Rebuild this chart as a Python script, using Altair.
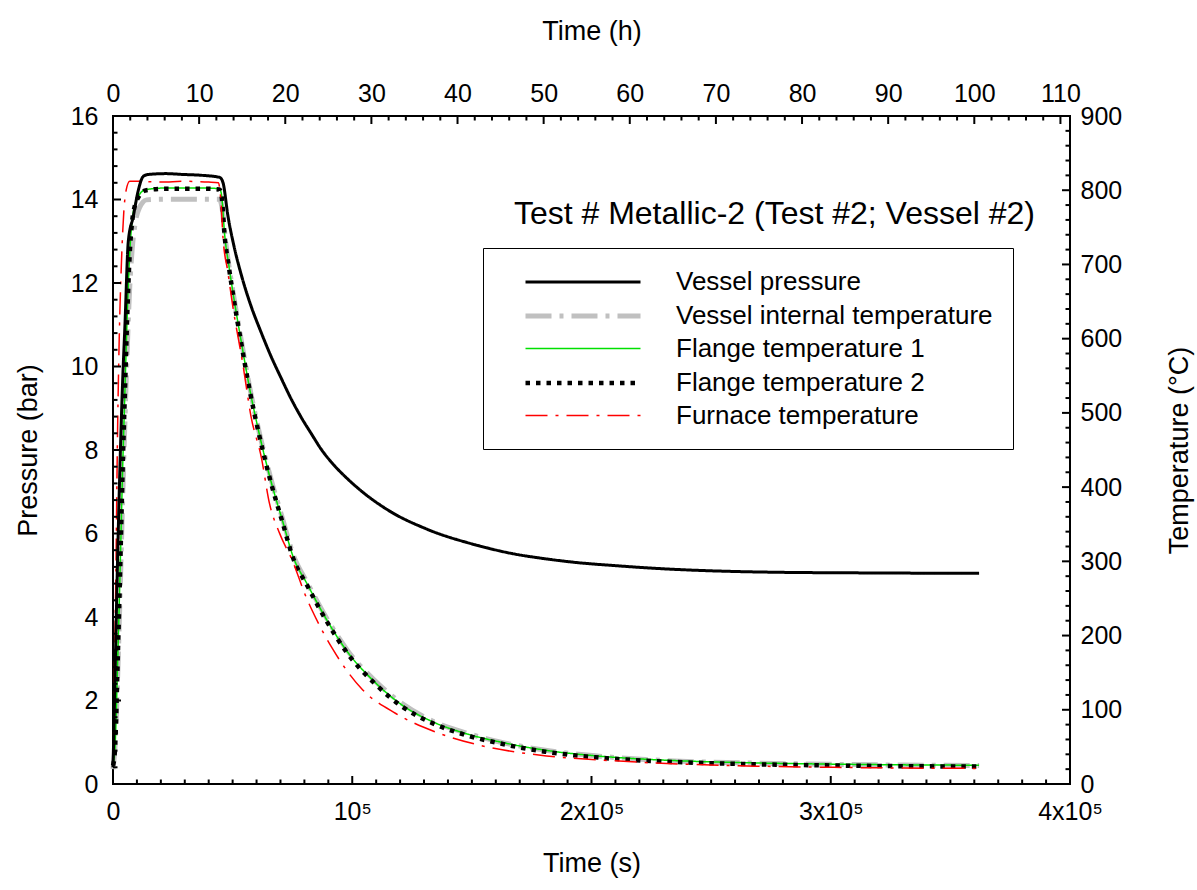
import altair as alt
import pandas as pd

FONT = "Liberation Sans"

SERIES = ["Vessel pressure", "Vessel internal temperature", "Flange temperature 1",
          "Flange temperature 2", "Furnace temperature"]
ANNOTATION = "Test # Metallic-2 (Test #2; Vessel #2)"

# ---- data (time in s) ----
P_T = [0, 500, 1000, 2000, 3000, 4000, 5000, 6400, 8500, 10500, 12600, 14700, 22000, 29300,
       37000, 44600, 46000, 48000, 50500, 53600, 57500, 61900, 66000, 70300, 74500, 78700,
       83000, 87000, 92500, 98200, 102500, 106600, 112000, 117600, 123000, 128900, 134000,
       140000, 147000, 154000, 166800, 180000, 194600, 210000, 222400, 243200, 260000,
       279300, 300000, 320000, 340000, 362000]
P_V = [0.4, 1.6, 3.0, 5.6, 7.8, 9.6, 11.0, 13.0, 13.6, 14.2, 14.55, 14.6, 14.62, 14.6,
       14.58, 14.53, 14.4, 13.62, 12.9, 12.2, 11.48, 10.82, 10.25, 9.72, 9.22, 8.78,
       8.38, 8.02, 7.63, 7.3, 7.08, 6.89, 6.67, 6.47, 6.31, 6.16, 6.04,
       5.92, 5.8, 5.69, 5.52, 5.4, 5.3, 5.23, 5.18, 5.12, 5.09,
       5.07, 5.06, 5.055, 5.05, 5.05]

VI_T = [0, 1000, 2000, 3000, 4000, 5000, 6000, 7000, 8000, 9500, 11000, 12500, 14000, 22000,
        30000, 38000, 44500, 45500, 47000, 48500, 50100, 53600, 57100, 61250, 66100, 71000,
        75100, 81400, 89000, 98000, 109200, 121000, 133500, 147400, 161250, 180700, 201500,
        222400, 243200, 270000, 300000, 330000, 362000]
VI_V = [20, 60, 150, 260, 380, 490, 590, 670, 720, 760, 776, 784, 787, 788,
        788, 788, 788, 778, 733, 697, 664, 598, 535, 472, 410, 356,
        311, 270, 225, 180, 140, 108, 85, 69, 57, 45.5, 38,
        33, 30, 28, 26.5, 25.5, 25]

F1_T = [0, 800, 2000, 3000, 4000, 5000, 6000, 7000, 8000, 9200, 10500, 12000, 14000, 22000,
        30000, 38000, 44500, 45300, 46700, 48500, 50100, 53600, 57100, 61250, 66100, 71000,
        75100, 81400, 89000, 98000, 109200, 121000, 133500, 147400, 161250, 180700, 201500,
        222400, 243200, 270000, 300000, 330000, 362000]
F1_V = [26, 47, 172, 292, 422, 532, 637, 716, 759, 781, 791, 798, 801, 803,
        803, 803, 802, 795, 739, 697, 663, 596, 533, 470, 407, 353,
        308, 268, 223, 178, 138, 106, 84, 68, 57, 45.5, 38,
        33.4, 30.5, 28.3, 26.8, 25.8, 25.3]

F2_T = [0, 800, 2000, 3000, 4000, 5000, 6000, 7000, 8000, 9200, 10500, 12000, 14000, 22000,
        30000, 38000, 44500, 45300, 46700, 48500, 50100, 53600, 57100, 61250, 66100, 71000,
        75100, 81400, 89000, 98000, 109200, 121000, 133500, 147400, 161250, 180700, 201500,
        222400, 243200, 270000, 300000, 330000, 362000]
F2_V = [25, 45, 170, 290, 420, 530, 635, 715, 758, 780, 790, 797, 800, 802,
        802, 802, 801, 794, 737, 695, 661, 594, 531, 468, 405, 351,
        306, 266, 221, 176, 136, 104, 82, 66, 55, 43.5, 36,
        31.4, 28.7, 26.5, 25, 24, 23.5]

FU_T = [0, 300, 600, 1200, 1800, 2600, 3500, 4500, 5500, 7000, 10000, 20000, 30000, 40000,
        44000, 45000, 46000, 48000, 50000, 54300, 57700, 62000, 65400, 69600, 75100, 80700,
        83500, 91800, 104300, 118200, 134900, 152900, 177900, 208500, 236250, 270000,
        300000, 330000, 362000]
FU_V = [25, 80, 150, 280, 450, 600, 700, 770, 800, 812, 812, 811, 812, 811,
        810, 790, 735, 690, 645, 565, 495, 440, 378, 338, 300, 252,
        232, 182, 127, 95, 70, 52.5, 39, 31.4, 27, 24,
        22.5, 21.5, 21]

# ---- tick values ----
X_MAJOR = [0, 100000, 200000, 300000, 400000]
X_MINOR = [v for v in range(0, 400001, 10000) if v % 100000]
H_MAJOR = [h * 3600 for h in range(0, 111, 10)]
H_MINOR = [h * 3600 for h in range(0, 111, 2) if h % 10]
P_MAJOR = list(range(0, 17, 2))
P_MINOR = [round(i * 0.4, 1) for i in range(41) if i % 5]
T_MAJOR = list(range(0, 901, 100))
T_MINOR = [v for v in range(0, 901, 20) if v % 100]

# ---- styles ----
COLORS = ["#000000", "#c0c0c0", "#00e000", "#000000", "#ff0000"]
DASHES = [[1, 0], [26, 8, 4, 8], [1, 0], [4.5, 6], [22, 8, 3, 8]]
WIDTHS = [3, 5, 1.5, 4.5, 1.5]

W, H = 957, 668
MAJ, MIN = 8, 4.5  # inward tick lengths (px)
TW = 2             # tick stroke width (px)

press_df = pd.DataFrame({"t": P_T, "pressure": P_V, "series": SERIES[0]})
vi_df = pd.DataFrame({"t": VI_T, "temperature": VI_V, "series": SERIES[1]})
f1_df = pd.DataFrame({"t": F1_T, "temperature": F1_V, "series": SERIES[2]})
f2_df = pd.DataFrame({"t": F2_T, "temperature": F2_V, "series": SERIES[3]})
fu_df = pd.DataFrame({"t": FU_T, "temperature": FU_V, "series": SERIES[4]})

xscale = alt.Scale(domain=[0, 400000], nice=False, zero=False)
pscale = alt.Scale(domain=[0, 16], nice=False, zero=False)
tscale = alt.Scale(domain=[0, 900], nice=False, zero=False)

legend = alt.Legend(orient="none", legendX=370, legendY=132, title=None,
                    strokeColor="black", fillColor="white", padding=20,
                    symbolType="M-4.6,0H4.6", symbolSize=625, symbolOffset=65,
                    labelOffset=78, labelFont=FONT, labelFontSize=26,
                    labelColor="black", labelLimit=600, rowPadding=6)


def style_enc():
    return dict(
        color=alt.Color("series:N", scale=alt.Scale(domain=SERIES, range=COLORS), legend=legend),
        strokeDash=alt.StrokeDash("series:N", scale=alt.Scale(domain=SERIES, range=DASHES),
                                  legend=legend),
        strokeWidth=alt.StrokeWidth("series:N",
                                    scale=alt.Scale(type="ordinal", domain=SERIES, range=WIDTHS),
                                    legend=legend),
    )


lab_common = dict(domain=False, ticks=False, labelFlush=False, labelOverlap=False)

ax_bottom = alt.Axis(orient="bottom", values=X_MAJOR,
                     labelExpr="datum.value == 0 ? '0' : datum.value == 100000 ? '10\u2075' : "
                               "format(datum.value / 100000, 'd') + 'x10\u2075'",
                     labelPadding=15, title="Time (s)", titlePadding=26, **lab_common)
ax_top = alt.Axis(orient="top", values=H_MAJOR,
                  labelExpr="format(round(datum.value / 3600), 'd')",
                  labelPadding=10, title="Time (h)", titlePadding=36, **lab_common)
ax_left = alt.Axis(orient="left", values=P_MAJOR, labelPadding=15,
                   title="Pressure (bar)", titlePadding=28, **lab_common)
ax_right = alt.Axis(orient="right", values=T_MAJOR, labelPadding=10,
                    title="Temperature (\u00b0C)", titlePadding=45, titleAngle=270,
                    titleBaseline="top", **lab_common)

line = dict(interpolate="monotone", strokeCap="butt", strokeJoin="round")
rule = dict(color="black", strokeWidth=TW, strokeCap="butt", opacity=1)


def xticks(vals, y0, y1):
    # inward tick marks along the bottom/top edge, positioned by the time scale
    return alt.Chart(pd.DataFrame({"t": vals})).mark_rule(**rule).encode(
        x=alt.X("t:Q", scale=xscale, axis=None), y=alt.value(y0), y2=alt.value(y1))


def yticks(vals, field, scale, x0, x1):
    # inward tick marks along the left/right edge, positioned by the value scale
    return alt.Chart(pd.DataFrame({field: vals})).mark_rule(**rule).encode(
        y=alt.Y(f"{field}:Q", scale=scale, axis=None), x=alt.value(x0), x2=alt.value(x1))


pA = alt.Chart(press_df).mark_line(**line).encode(
    x=alt.X("t:Q", scale=xscale, axis=ax_bottom),
    y=alt.Y("pressure:Q", scale=pscale, axis=ax_left),
    **style_enc())

tC = alt.Chart(vi_df).mark_line(**line).encode(
    x=alt.X("t:Q", scale=xscale, axis=ax_top),
    y=alt.Y("temperature:Q", scale=tscale, axis=ax_right),
    **style_enc())


def tline(df):
    return alt.Chart(df).mark_line(**line).encode(
        x=alt.X("t:Q", scale=xscale, axis=None),
        y=alt.Y("temperature:Q", scale=tscale, axis=None),
        **style_enc())


ann = alt.Chart(pd.DataFrame({"label": [ANNOTATION]})).mark_text(
    align="right", baseline="middle", font=FONT, fontSize=32, color="black"
).encode(x=alt.value(922), y=alt.value(98), text="label:N")

temp = alt.layer(
    tC, tline(f1_df), tline(f2_df), tline(fu_df),
    yticks(T_MAJOR, "temperature", tscale, W, W - MAJ),
    yticks(T_MINOR, "temperature", tscale, W, W - MIN),
).resolve_axis(x="independent", y="independent")

press = alt.layer(
    pA,
    xticks(X_MAJOR, H, H - MAJ), xticks(X_MINOR, H, H - MIN),
    xticks(H_MAJOR, 0, MAJ), xticks(H_MINOR, 0, MIN),
    yticks(P_MAJOR, "pressure", pscale, 0, MAJ),
    yticks(P_MINOR, "pressure", pscale, 0, MIN),
).resolve_axis(x="independent", y="independent")

chart = alt.layer(temp, press, ann).resolve_scale(y="independent").resolve_axis(
    x="independent", y="independent"
).properties(
    width=W, height=H,
    padding={"left": 113, "top": 116, "right": 1197 - 113 - W, "bottom": 890 - 116 - H},
    autosize=alt.AutoSizeParams(type="none"),
    background="white",
).configure_view(stroke="black", strokeWidth=2).configure_axis(
    labelFont=FONT, labelFontSize=25, labelColor="black",
    titleFont=FONT, titleFontSize=27, titleFontWeight="normal", titleColor="black",
    grid=False,
)

chart.save("out.html", embed_options={"renderer": "svg", "actions": False})
